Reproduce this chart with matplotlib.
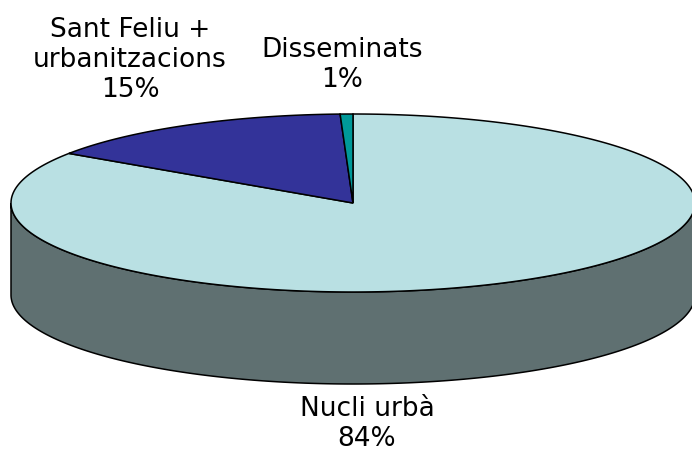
#!/usr/bin/env python3
"""3D-style pie chart drawn by extruding a flattened pie on pixel-sized axes."""

import numpy as np
import matplotlib
matplotlib.use('Agg')
import matplotlib.pyplot as plt

labels = ['Nucli urbà\n84%', 'Sant Feliu +\nurbanitzacions\n15%', 'Disseminats\n1%']
values = [84.4, 15.0, 0.6]
top_colors = ['#B9E0E3', '#333399', '#009999']
side_colors = ['#5F7071', '#1A1A4D', '#004D4D']

W, H = 692, 455
CX, CY = 353, 203
RX, RY = 342, 89
DEPTH = 92

fig = plt.figure(figsize=(W / 100, H / 100), dpi=100)
ax = fig.add_axes([0, 0, 1, 1])
ax.set_xlim(0, W)
ax.set_ylim(H, 0)
ax.axis('off')


def rim(a0, a1):
    t = np.radians(np.linspace(a0, a1, 300))
    return CX + RX * np.cos(t), CY - RY * np.sin(t)


# slices run clockwise from 12 o'clock, first slice is the big one
starts = 90 - np.cumsum([0] + values[:-1]) * 3.6
ends = 90 - np.cumsum(values) * 3.6

for a0, a1, side in zip(starts, ends, side_colors):
    # only the front half of the rim shows a wall
    lo, hi = max(min(a0, a1), -180), min(max(a0, a1), 0)
    if lo < hi:
        x, y = rim(lo, hi)
        ax.fill(np.r_[x, x[::-1]], np.r_[y, y[::-1] + DEPTH],
                facecolor=side, edgecolor='black', lw=1.1, zorder=2)

for a0, a1, top in zip(starts, ends, top_colors):
    x, y = rim(a0, a1)
    ax.fill(np.r_[CX, x], np.r_[CY, y], facecolor=top, edgecolor='black', lw=1.1, zorder=3)

font = dict(family='DejaVu Sans', fontsize=19, color='black', ha='center',
            va='center', linespacing=1.2, zorder=4)
ax.text(367, 424, labels[0], **font)
ax.text(130, 60, labels[1], **font)
ax.text(342, 65, labels[2], **font)

fig.savefig('out.png', dpi=100)
